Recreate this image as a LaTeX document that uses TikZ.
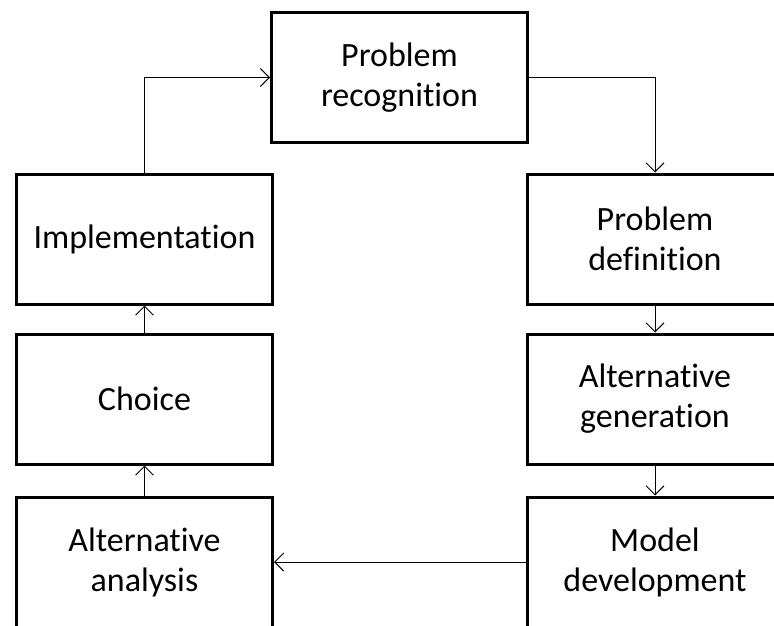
\documentclass[tikz,border=0pt]{standalone}
\usepackage{fontspec}
\setmainfont{Carlito}[Ligatures=NoCommon]
\usetikzlibrary{arrows.meta}
\begin{document}
\begin{tikzpicture}[x=1pt,y=-1pt,
  stage/.style={draw=black, line width=3pt, rectangle, minimum width=256pt,
    minimum height=130pt, align=center, inner sep=0pt,
    font=\fontsize{34}{40}\selectfont},
  flow/.style={line width=1pt, -{Straight Barb[length=9pt,width=18pt,line width=1pt]}}]
  \useasboundingbox (0,0) rectangle (774,626);
  \clip (0,0) rectangle (774,626);
  % stages of the decision cycle
  \node[stage] (recog) at (399.5,77.5) {Problem\\recognition};
  \node[stage] (impl)  at (144.5,239) {Implementation};
  \node[stage] (choice) at (144.5,399) {Choice};
  \node[stage] (anal)  at (144.5,562) {Alternative\\analysis};
  \node[stage] (defn)  at (655,239) {Problem\\definition};
  \node[stage] (gen)   at (655,399) {Alternative\\generation};
  \node[stage] (model) at (655,562) {Model\\development};
  % connectors around the cycle
  \draw[flow] (recog.east) -| (defn.north);
  \draw[flow] (defn.south) -- (gen.north);
  \draw[flow] (gen.south) -- (model.north);
  \draw[flow] (model.west) -- (anal.east);
  \draw[flow] (anal.north) -- (choice.south);
  \draw[flow] (choice.north) -- (impl.south);
  \draw[flow] (impl.north) |- (recog.west);
\end{tikzpicture}
\end{document}
